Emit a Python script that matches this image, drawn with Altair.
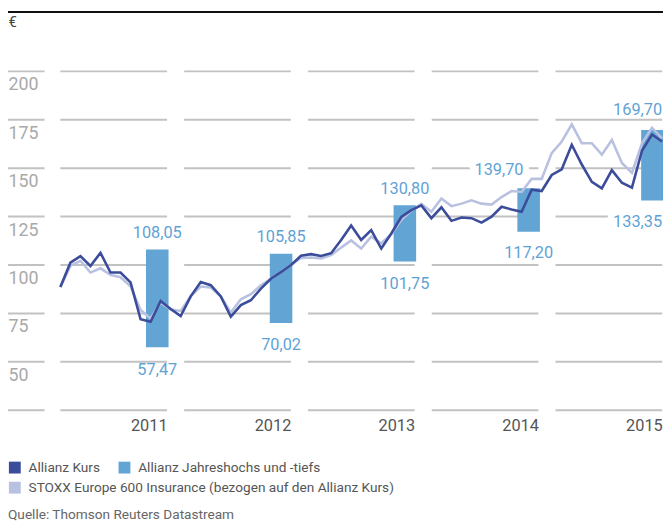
import altair as alt
import pandas as pd

# ---------------- data ----------------
years = [2011, 2012, 2013, 2014, 2015]
year_high = [108.05, 105.85, 130.80, 139.70, 169.70]
year_low = [57.47, 70.02, 101.75, 117.20, 133.35]
high_text = ["108,05", "105,85", "130,80", "139,70", "169,70"]
low_text = ["57,47", "70,02", "101,75", "117,20", "133,35"]

# monthly closing values, month index 0..60
allianz = [88.6, 101.2, 104.6, 99.5, 106.3, 96.1, 96.1, 91.0, 72.0, 70.7, 81.4, 77.3,
           73.6, 83.8, 91.2, 89.6, 83.8, 73.3, 79.3, 81.8, 87.8, 92.9, 96.3, 100.0,
           104.8, 105.6, 104.7, 106.1, 112.9, 120.4, 112.9, 118.0, 108.5, 116.3, 124.8, 128.3,
           130.8, 124.2, 129.8, 122.8, 124.5, 124.2, 121.9, 125.0, 130.1, 128.7, 127.5, 138.9,
           138.2, 146.5, 149.4, 162.1, 151.9, 142.9, 139.6, 149.0, 142.5, 140.0, 159.0, 167.4, 163.8]
stoxx = [88.6, 99.5, 102.2, 96.1, 98.3, 94.9, 93.7, 89.0, 76.8, 72.4, 80.6, 77.0,
         76.3, 84.0, 88.9, 88.4, 83.8, 75.5, 82.3, 84.9, 89.5, 92.9, 96.3, 100.0,
         103.6, 103.9, 103.4, 105.1, 109.0, 112.7, 108.5, 114.6, 111.2, 115.9, 123.3, 128.0,
         131.6, 127.5, 134.3, 130.4, 131.7, 133.4, 131.7, 131.2, 135.1, 138.2, 137.7, 144.5,
         144.5, 157.8, 163.8, 172.6, 162.9, 162.9, 157.0, 164.6, 152.7, 147.6, 162.9, 170.9, 165.4]

y_ticks = [50, 75, 100, 125, 150, 175, 200]
grid_values = [25, 50, 75, 100, 125, 150, 175, 200]

allianz_names = ["Allianz Kurs", "Allianz Jahreshochs und -tiefs"]
allianz_colors = ["#3b4c9b", "#62a5d4"]
stoxx_name = "STOXX Europe 600 Insurance (bezogen auf den Allianz Kurs)"
stoxx_color = "#b9c1e0"
source_text = "Quelle: Thomson Reuters Datastream"

# ---------------- layout ----------------
W, H = 663, 404
PX_MONTH = 10.15
PX_UNIT = 1.96
X_MIN = -53 / PX_MONTH
X_MAX = X_MIN + W / PX_MONTH
Y_MIN = 25
Y_MAX = 25 + H / PX_UNIT
YEAR_PERIOD = 12.345
SEG_LEN = 10.64
LEFT_SEG_END = (37 - 53) / PX_MONTH
BAR_FROM, BAR_TO = -2.1, 0.15
high_dx_px = [0, 0, 0, -30, -15]
high_dy_px = [-12, -12, -11.5, -13, -15]
low_dx_px = [0, 0, 0, 0, -15]
low_dy_px = [27.5, 27.5, 28, 27, 27]
CAP = 12

NUM_FONT = "Roboto"
TXT_FONT = "Roboto"
TXT_SIZE = 13.8
TXT_COLOR = "#555555"
LABEL_COLOR = "#5fa3d5"
LEG_Y1, LEG_Y2 = 455, 475.5

seg_ends = [SEG_LEN + YEAR_PERIOD * k for k in range(len(years))]
seg_starts = [YEAR_PERIOD * k for k in range(len(years))]

# ---------------- frames ----------------
grid_rows = []
for g in grid_values:
    grid_rows.append({"x": X_MIN, "x2": LEFT_SEG_END, "y": g})
    for s, e in zip(seg_starts, seg_ends):
        grid_rows.append({"x": s, "x2": min(e, X_MAX), "y": g})
grid_df = pd.DataFrame(grid_rows)

bars_df = pd.DataFrame({
    "year": years,
    "bx": [e + BAR_FROM for e in seg_ends],
    "bx2": [min(e + BAR_TO, X_MAX) for e in seg_ends],
    "low": year_low,
    "high": year_high,
    "series": allianz_names[1],
})

months = list(range(len(allianz)))
allianz_df = pd.DataFrame({"month": months, "value": allianz, "series": allianz_names[0]})
stoxx_df = pd.DataFrame({"month": months, "value": stoxx, "series2": stoxx_name})


def crosses_grid(base_val):
    top_val = base_val + CAP / PX_UNIT
    return any(base_val - 0.3 <= g <= top_val + 0.3 for g in grid_values)


lab_rows = []
for i, yr in enumerate(years):
    center = seg_ends[i] + (BAR_FROM + BAR_TO) / 2
    hb = year_high[i] - high_dy_px[i] / PX_UNIT
    lb = year_low[i] - low_dy_px[i] / PX_UNIT
    lab_rows.append({"x": center + high_dx_px[i] / PX_MONTH, "y": hb,
                     "text": high_text[i], "knock": crosses_grid(hb)})
    lab_rows.append({"x": center + low_dx_px[i] / PX_MONTH, "y": lb,
                     "text": low_text[i], "knock": crosses_grid(lb)})
labels_df = pd.DataFrame(lab_rows)
halo_df = labels_df[labels_df["knock"]]

# ---------------- scales / axes ----------------
xscale = alt.Scale(domain=[X_MIN, X_MAX], nice=False, zero=False)
yscale = alt.Scale(domain=[Y_MIN, Y_MAX], nice=False, zero=False)
cscale = alt.Scale(domain=allianz_names, range=allianz_colors)
sscale = alt.Scale(domain=[stoxx_name], range=[stoxx_color])

year_expr = "[" + ",".join("'%d'" % y for y in years) + "]"
x_axis = alt.Axis(
    values=seg_ends, title=None, grid=False, domain=False, ticks=False, tickSize=0,
    labelExpr=f"{year_expr}[round((datum.value - {SEG_LEN}) / {YEAR_PERIOD})]",
    labelAlign="right", labelBaseline="alphabetic", labelPadding=21,
    labelFont=NUM_FONT, labelFontSize=16.5, labelColor=TXT_COLOR,
    labelFlush=False, labelOverlap=False, labelBound=False,
)
y_axis = alt.Axis(
    values=y_ticks, format="d", grid=False, domain=False, ticks=False, tickSize=0,
    labelAlign="left", labelBaseline="alphabetic", labelPadding=0, labelOffset=18.7,
    labelFont=NUM_FONT, labelFontSize=18, labelColor="#a9a9a9",
    labelFlush=False, labelOverlap=False, labelBound=False,
    title="€", titleAngle=0, titleX=0, titleY=16, titleAlign="left",
    titleBaseline="alphabetic", titleFont=NUM_FONT, titleFontSize=15,
    titleFontWeight="normal", titleColor="#444444",
)

common_legend = dict(
    title=None, orient="none", legendX=0, direction="horizontal",
    symbolType="square", symbolSize=144, symbolStrokeWidth=0, symbolOffset=0,
    labelFont=TXT_FONT, labelFontSize=TXT_SIZE, labelColor=TXT_COLOR, labelOffset=7,
    labelLimit=0, columnPadding=17, padding=0, symbolOpacity=1,
)
legend_a = alt.Legend(legendY=LEG_Y1, **common_legend)
legend_b = alt.Legend(legendY=LEG_Y2, symbolFillColor=stoxx_color, **common_legend)

# ---------------- layers ----------------
grid = alt.Chart(grid_df).mark_rule(color="#c2c2c2", strokeWidth=2).encode(
    x=alt.X("x:Q", scale=xscale, axis=x_axis),
    x2="x2:Q",
    y=alt.Y("y:Q", scale=yscale, axis=y_axis),
)

bars = alt.Chart(bars_df).mark_rect(clip=True).encode(
    x=alt.X("bx:Q", scale=xscale),
    x2="bx2:Q",
    y=alt.Y("low:Q", scale=yscale),
    y2="high:Q",
    color=alt.Color("series:N", scale=cscale, legend=legend_a),
)

stoxx_line = alt.Chart(stoxx_df).mark_line(strokeWidth=2.6, strokeJoin="miter").encode(
    x=alt.X("month:Q", scale=xscale),
    y=alt.Y("value:Q", scale=yscale),
    stroke=alt.Stroke("series2:N", scale=sscale, legend=legend_b),
)

allianz_line = alt.Chart(allianz_df).mark_line(strokeWidth=2.6, strokeJoin="miter").encode(
    x=alt.X("month:Q", scale=xscale),
    y=alt.Y("value:Q", scale=yscale),
    color=alt.Color("series:N", scale=cscale, legend=None),
)

halo = alt.Chart(halo_df).mark_text(
    font=NUM_FONT, fontSize=16.5, align="center", baseline="alphabetic",
    fill="white", stroke="white", strokeWidth=13, strokeJoin="round",
).encode(
    x=alt.X("x:Q", scale=xscale),
    y=alt.Y("y:Q", scale=yscale),
    text="text:N",
)

labels = alt.Chart(labels_df).mark_text(
    font=NUM_FONT, fontSize=16.5, align="center", baseline="alphabetic", color=LABEL_COLOR,
).encode(
    x=alt.X("x:Q", scale=xscale),
    y=alt.Y("y:Q", scale=yscale),
    text="text:N",
)

top_rule = alt.Chart(pd.DataFrame({"k": [0]})).mark_rule(color="#111111", strokeWidth=2).encode(
    x=alt.value(0), x2=alt.value(W), y=alt.value(1),
)

source = alt.Chart(pd.DataFrame({"t": [source_text]})).mark_text(
    font=TXT_FONT, fontSize=TXT_SIZE, align="left", baseline="alphabetic", color="#666666",
).encode(x=alt.value(0), y=alt.value(513.7), text="t:N")

chart = alt.layer(grid, bars, stoxx_line, allianz_line, halo, labels, top_rule, source).properties(
    width=W, height=H,
    autosize=alt.AutoSizeParams(type="none"),
    padding={"left": 0, "top": 0, "right": 0, "bottom": 112},
    background="white",
).configure_view(stroke=None)

chart.save("out.html", embed_options={"renderer": "svg", "actions": False})
